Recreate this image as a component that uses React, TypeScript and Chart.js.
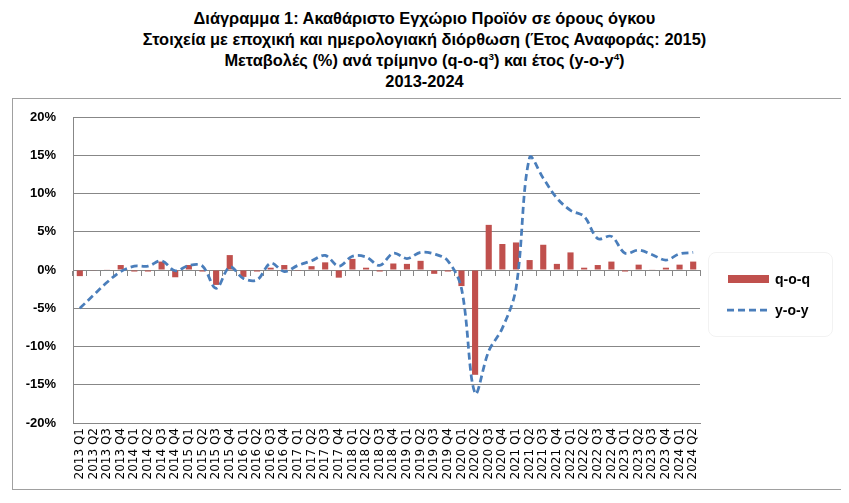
import React, { useEffect, useRef } from 'react';
import { Chart, registerables } from 'chart.js';

Chart.register(...registerables);

const categories = [
  '2013 Q1', '2013 Q2', '2013 Q3', '2013 Q4',
  '2014 Q1', '2014 Q2', '2014 Q3', '2014 Q4',
  '2015 Q1', '2015 Q2', '2015 Q3', '2015 Q4',
  '2016 Q1', '2016 Q2', '2016 Q3', '2016 Q4',
  '2017 Q1', '2017 Q2', '2017 Q3', '2017 Q4',
  '2018 Q1', '2018 Q2', '2018 Q3', '2018 Q4',
  '2019 Q1', '2019 Q2', '2019 Q3', '2019 Q4',
  '2020 Q1', '2020 Q2', '2020 Q3', '2020 Q4',
  '2021 Q1', '2021 Q2', '2021 Q3', '2021 Q4',
  '2022 Q1', '2022 Q2', '2022 Q3', '2022 Q4',
  '2023 Q1', '2023 Q2', '2023 Q3', '2023 Q4',
  '2024 Q1', '2024 Q2',
];

// q-o-q change (%)
const qoq = [
  -0.8, -0.05, 0.05, 0.65,
  -0.2, -0.2, 1.1, -0.95,
  0.65, -0.2, -1.95, 1.95,
  -0.9, -0.2, 0.3, 0.65,
  -0.1, 0.5, 1.0, -1.0,
  1.45, 0.3, -0.2, 0.85,
  0.8, 1.2, -0.5, -0.2,
  -2.1, -13.7, 5.9, 3.4,
  3.6, 1.3, 3.3, 0.8,
  2.3, 0.3, 0.65, 1.1,
  -0.2, 0.7, 0.05, 0.3,
  0.7, 1.1,
];

// y-o-y change (%)
const yoy = [
  -5.0, -3.3, -1.6, -0.2,
  0.5, 0.5, 1.2, -0.1,
  0.6, 0.5, -2.4, 0.4,
  -1.1, -1.3, 0.9, -0.2,
  0.6, 1.2, 1.9, 0.5,
  1.8, 1.7, 0.6, 2.2,
  1.5, 2.3, 2.1, 1.2,
  -2.4, -16.1, -10.6, -7.6,
  -2.4, 14.7, 12.0, 9.4,
  7.8, 7.0, 4.1, 4.4,
  2.2, 2.6, 2.0, 1.3,
  2.1, 2.3,
];

const yTicks = [-20, -15, -10, -5, 0, 5, 10, 15, 20];

const BAR_COLOR = '#C0504D';
const LINE_COLOR = '#4A7EBB';
const GRID_COLOR = '#878787';

export default function App() {
  const ref = useRef<HTMLCanvasElement>(null);

  useEffect(() => {
    if (!ref.current) return;
    const chart = new Chart(ref.current, {
      type: 'bar',
      data: {
        labels: categories,
        datasets: [
          {
            type: 'line',
            label: 'y-o-y',
            data: yoy,
            borderColor: LINE_COLOR,
            backgroundColor: LINE_COLOR,
            borderWidth: 2.75,
            borderDash: [7, 4],
            pointRadius: 0,
            tension: 0.35,
            fill: false,
            order: 0,
          } as any,
          {
            type: 'bar',
            label: 'q-o-q',
            data: qoq,
            backgroundColor: BAR_COLOR,
            barPercentage: 0.45,
            categoryPercentage: 1,
            order: 1,
          } as any,
        ],
      },
      options: {
        animation: false,
        responsive: false,
        layout: { padding: { top: 18, right: 142, bottom: 0, left: 0 } },
        plugins: { legend: { display: false }, tooltip: { enabled: false } },
        scales: {
          x: {
            grid: { display: false, drawTicks: false },
            border: { display: true, color: GRID_COLOR },
            ticks: {
              autoSkip: false,
              minRotation: 90,
              maxRotation: 90,
              padding: 5,
              color: '#000',
              font: { family: 'DejaVu Sans', size: 12 },
            },
            afterFit: (s: any) => { s.height = 66; s.paddingLeft = 0; s.paddingRight = 0; },
          },
          x0: {
            type: 'category',
            position: { y: 0 } as any,
            offset: true,
            grid: { drawOnChartArea: false, drawTicks: true, tickLength: 5, color: GRID_COLOR, offset: true },
            border: { display: true, color: GRID_COLOR },
            ticks: { display: false },
          } as any,
          y: {
            min: -20,
            max: 20,
            afterBuildTicks: (s: any) => { s.ticks = yTicks.map((v) => ({ value: v })); },
            ticks: {
              callback: (v: any) => v + '%',
              padding: 17,
              color: '#000',
              font: { family: 'Liberation Sans', size: 13, weight: 'bold' },
            },
            grid: { color: GRID_COLOR, drawTicks: false },
            border: { color: GRID_COLOR },
            afterFit: (s: any) => { s.width = 60; s.paddingTop = 0; s.paddingBottom = 0; },
          },
        },
      } as any,
    });
    return () => chart.destroy();
  }, []);

  const sup: React.CSSProperties = { fontSize: '0.6em', verticalAlign: 'super', lineHeight: 0 };

  return (
    <div style={{ position: 'relative', width: 833, height: 487, fontFamily: 'Liberation Sans, Arial, sans-serif' }}>
      <div style={{ position: 'absolute', left: 0, top: 0, width: 833, textAlign: 'center', fontWeight: 'bold', fontSize: 16.4, lineHeight: '21px', color: '#000' }}>
        <div>Διάγραμμα 1: Ακαθάριστο Εγχώριο Προϊόν σε όρους όγκου</div>
        <div>Στοιχεία με εποχική και ημερολογιακή διόρθωση (Έτος Αναφοράς: 2015)</div>
        <div>Μεταβολές (%) ανά τρίμηνο (q-o-q<span style={sup}>3</span>) και έτος (y-o-y<span style={sup}>4</span>)</div>
        <div>2013-2024</div>
      </div>
      <div style={{ position: 'absolute', left: 4, top: 90, width: 831, height: 392, boxSizing: 'border-box', border: '1px solid #a0a0a0' }}>
        <canvas ref={ref} width={829} height={390} style={{ display: 'block', width: 829, height: 390 }} />
        <div style={{ position: 'absolute', left: 695, top: 153, width: 125, height: 85, boxSizing: 'border-box', border: '1px solid #f2f2f2', borderRadius: 8 }} />
        <div style={{ position: 'absolute', left: 715, top: 176, width: 41, height: 8, background: BAR_COLOR }} />
        <div style={{ position: 'absolute', left: 762, top: 171, fontSize: 14, fontWeight: 'bold', lineHeight: '18px', color: '#000' }}>q-o-q</div>
        <svg style={{ position: 'absolute', left: 714, top: 208 }} width={44} height={6}>
          <line x1={0} y1={3} x2={44} y2={3} stroke={LINE_COLOR} strokeWidth={2.75} strokeDasharray="7 4" />
        </svg>
        <div style={{ position: 'absolute', left: 762, top: 202, fontSize: 14, fontWeight: 'bold', lineHeight: '18px', color: '#000' }}>y-o-y</div>
      </div>
    </div>
  );
}
